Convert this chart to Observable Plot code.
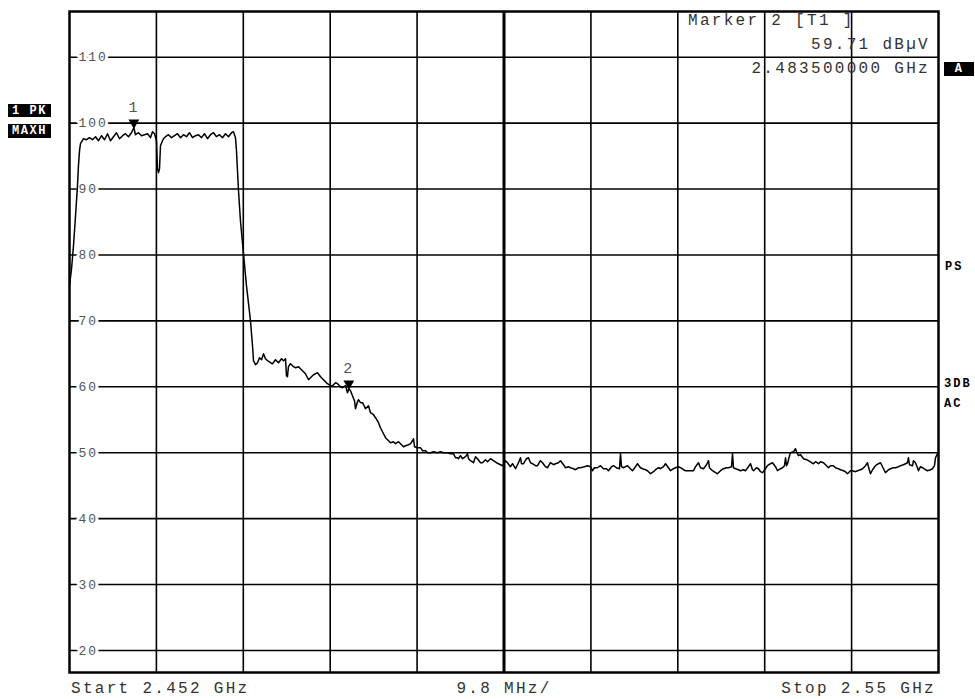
<!DOCTYPE html>
<html>
<head>
<meta charset="utf-8">
<script src="https://cdn.jsdelivr.net/npm/d3@7"></script>
<script src="https://cdn.jsdelivr.net/npm/@observablehq/plot@0.6"></script>
<style>
  html, body { margin: 0; padding: 0; background: #fff; }
  #chart svg { display: block; }
  #chart g[aria-label="text"] text { letter-spacing: 2px; }
  .readout { font-family: "Liberation Mono", "DejaVu Sans Mono", monospace; font-size: 16px; letter-spacing: 2.3px; fill: #333; }
  .side { font-family: "Liberation Mono", "DejaVu Sans Mono", monospace; font-size: 12px; font-weight: bold; letter-spacing: 2px; fill: #000; }
  .boxlab { font-family: "Liberation Mono", "DejaVu Sans Mono", monospace; font-size: 12px; font-weight: bold; letter-spacing: 1.5px; fill: #fff; }
</style>
</head>
<body>
<div id="chart"></div>
<script>
// Sweep settings (MHz)
const startMHz = 2452;
const stopMHz = 2550;
const divisions = 10;

// Level axis (dBµV)
const levelMin = 16.66;
const levelMax = 116.93;
const levelTicks = [20, 30, 40, 50, 60, 70, 80, 90, 100, 110];

// Trace 1, max hold: frequency (MHz)
const freqMHz = [
  2452.00, 2452.23, 2452.45, 2452.68, 2452.90, 2453.01, 2453.13, 2453.24,
  2453.58, 2453.92, 2454.26, 2454.59, 2454.93, 2455.27, 2455.61, 2455.95,
  2456.29, 2456.62, 2456.96, 2457.30, 2457.64, 2457.98, 2458.32, 2458.65,
  2458.99, 2459.26, 2459.44, 2459.78, 2460.12, 2460.46, 2460.80, 2461.13,
  2461.36, 2461.59, 2461.81, 2461.92, 2462.04, 2462.15, 2462.26, 2462.49,
  2462.60, 2462.83, 2463.16, 2463.50, 2463.84, 2464.18, 2464.52, 2464.86,
  2465.19, 2465.53, 2465.87, 2466.21, 2466.55, 2466.89, 2467.22, 2467.56,
  2467.90, 2468.24, 2468.58, 2468.92, 2469.25, 2469.59, 2469.93, 2470.27,
  2470.49, 2470.72, 2470.83, 2471.06, 2471.28, 2471.62, 2471.96, 2472.41,
  2472.64, 2472.75, 2472.98, 2473.20, 2473.43, 2473.66, 2473.88, 2474.10,
  2474.33, 2474.67, 2474.89, 2475.23, 2475.57, 2475.91, 2476.13, 2476.36,
  2476.47, 2476.58, 2476.69, 2476.92, 2477.26, 2477.49, 2477.83, 2478.05,
  2478.39, 2478.61, 2478.95, 2479.29, 2479.52, 2479.97, 2480.31, 2480.53,
  2480.87, 2481.09, 2481.43, 2481.66, 2482.00, 2482.22, 2482.56, 2482.79,
  2483.13, 2483.35, 2483.50, 2483.69, 2483.91, 2484.14, 2484.25, 2484.48,
  2484.59, 2484.82, 2485.04, 2485.27, 2485.38, 2485.72, 2485.94, 2486.28,
  2486.51, 2486.85, 2487.07, 2487.41, 2487.64, 2487.98, 2488.20, 2488.54,
  2488.76, 2489.10, 2489.33, 2489.66, 2489.89, 2490.23, 2490.46, 2490.68,
  2490.79, 2490.91, 2491.24, 2491.58, 2491.81, 2492.15, 2492.37, 2492.71,
  2493.05, 2493.50, 2493.84, 2494.18, 2494.63, 2494.97, 2495.30, 2495.53,
  2495.76, 2495.87, 2496.09, 2496.32, 2496.66, 2496.88, 2497.00, 2497.22,
  2497.56, 2497.79, 2498.01, 2498.35, 2498.57, 2498.91, 2499.14, 2499.48,
  2499.81, 2500.15, 2500.38, 2500.83, 2501.17, 2501.39, 2501.73, 2501.96,
  2502.30, 2502.63, 2502.86, 2502.97, 2503.20, 2503.54, 2503.76, 2503.99,
  2504.21, 2504.55, 2504.78, 2505.11, 2505.34, 2505.68, 2505.90, 2506.24,
  2506.58, 2506.81, 2507.14, 2507.37, 2507.71, 2507.93, 2508.27, 2508.50,
  2508.83, 2509.06, 2509.40, 2509.63, 2510.07, 2510.41, 2510.75, 2510.98,
  2511.20, 2511.54, 2511.88, 2512.22, 2512.56, 2512.78, 2513.12, 2513.35,
  2513.68, 2514.02, 2514.14, 2514.25, 2514.47, 2514.70, 2514.93, 2515.26,
  2515.49, 2515.83, 2516.05, 2516.39, 2516.62, 2516.96, 2517.18, 2517.52,
  2517.86, 2518.09, 2518.43, 2518.65, 2518.99, 2519.21, 2519.55, 2519.78,
  2520.11, 2520.34, 2520.68, 2520.91, 2521.25, 2521.47, 2521.69, 2522.03,
  2522.37, 2522.60, 2522.93, 2523.16, 2523.50, 2523.84, 2524.06, 2524.17,
  2524.51, 2524.85, 2525.07, 2525.41, 2525.75, 2526.09, 2526.32, 2526.66,
  2526.77, 2526.88, 2527.11, 2527.44, 2527.67, 2528.01, 2528.23, 2528.57,
  2528.80, 2529.02, 2529.14, 2529.47, 2529.70, 2529.93, 2530.15, 2530.49,
  2530.71, 2531.05, 2531.28, 2531.62, 2531.84, 2532.18, 2532.41, 2532.63,
  2532.75, 2532.86, 2532.97, 2533.20, 2533.31, 2533.65, 2533.87, 2533.99,
  2534.21, 2534.44, 2534.78, 2535.12, 2535.34, 2535.68, 2535.90, 2536.13,
  2536.47, 2536.69, 2537.03, 2537.26, 2537.59, 2537.82, 2538.16, 2538.38,
  2538.72, 2538.95, 2539.28, 2539.51, 2539.74, 2540.07, 2540.30, 2540.64,
  2540.86, 2541.20, 2541.43, 2541.77, 2541.99, 2542.10, 2542.33, 2542.56,
  2542.89, 2543.23, 2543.46, 2543.80, 2544.02, 2544.36, 2544.59, 2544.92,
  2545.15, 2545.49, 2545.71, 2546.05, 2546.28, 2546.50, 2546.61, 2546.73,
  2547.07, 2547.18, 2547.40, 2547.63, 2547.74, 2547.97, 2548.19, 2548.53,
  2548.76, 2549.10, 2549.32, 2549.55, 2549.66, 2549.89, 2550.00
];

// Trace 1, max hold: level (dBµV)
const levelDbuv = [
  75.33, 77.91, 81.40, 85.95, 90.50, 93.54, 95.81, 96.88,
  97.63, 97.48, 97.79, 97.48, 97.94, 97.33, 98.09, 97.48,
  98.39, 97.33, 97.94, 98.54, 97.63, 98.09, 98.39, 97.94,
  98.54, 99.30, 98.24, 98.54, 98.09, 98.24, 98.39, 97.79,
  98.70, 98.39, 97.33, 93.08, 92.48, 93.08, 96.57, 97.33,
  97.63, 97.94, 98.24, 97.79, 98.09, 98.39, 97.79, 98.24,
  97.94, 98.54, 97.79, 98.09, 98.24, 97.79, 98.39, 97.63,
  98.24, 98.54, 97.94, 98.24, 97.79, 98.39, 97.94, 98.54,
  98.70, 97.79, 95.81, 89.75, 85.19, 80.19, 75.33, 70.02,
  66.23, 63.96, 63.35, 63.65, 64.41, 64.11, 65.02, 64.26,
  63.96, 63.65, 63.50, 64.11, 63.65, 64.26, 63.96, 64.26,
  61.68, 61.53, 63.05, 63.50, 63.05, 62.89, 63.05, 62.74,
  62.29, 61.98, 61.07, 61.53, 61.83, 62.14, 61.53, 61.23,
  60.77, 60.47, 60.16, 60.16, 60.62, 60.47, 60.01, 59.86,
  60.16, 59.10, 59.71, 59.41, 58.65, 57.89, 56.68, 57.74,
  58.04, 57.59, 57.59, 56.98, 56.68, 57.13, 56.07, 55.76,
  55.31, 54.55, 53.79, 52.88, 52.28, 51.82, 51.52, 51.67,
  51.37, 51.67, 51.37, 50.91, 51.06, 51.21, 51.37, 51.82,
  52.12, 50.91, 50.76, 50.76, 50.30, 50.30, 50.00, 50.00,
  50.15, 50.00, 50.15, 50.00, 50.00, 49.85, 49.85, 49.24,
  49.24, 49.09, 49.55, 49.09, 49.39, 49.85, 49.09, 48.79,
  48.48, 49.39, 49.09, 48.48, 48.48, 48.94, 48.63, 49.09,
  48.79, 48.48, 48.33, 48.03, 48.79, 48.48, 47.88, 48.33,
  47.57, 48.48, 49.24, 48.33, 48.33, 49.09, 49.24, 48.48,
  48.33, 48.03, 48.03, 48.79, 48.48, 47.88, 47.72, 48.48,
  48.18, 48.33, 48.48, 48.79, 48.18, 47.72, 47.88, 47.72,
  47.57, 47.42, 47.72, 47.72, 47.88, 48.03, 47.88, 47.27,
  47.72, 47.72, 48.03, 47.57, 47.57, 47.27, 47.88, 48.03,
  47.72, 47.57, 49.85, 47.88, 47.72, 47.88, 48.03, 47.57,
  47.27, 47.88, 48.33, 47.72, 47.57, 47.42, 47.27, 46.81,
  47.12, 47.42, 47.72, 47.57, 47.88, 48.33, 47.72, 47.27,
  47.57, 47.72, 47.88, 47.72, 47.42, 47.27, 47.27, 47.27,
  47.27, 47.88, 48.48, 47.72, 47.57, 48.18, 48.79, 47.72,
  47.27, 46.97, 46.81, 47.27, 47.57, 47.72, 47.72, 47.88,
  49.85, 47.72, 47.57, 47.42, 47.27, 47.42, 47.27, 47.88,
  48.33, 47.42, 47.27, 47.72, 47.57, 47.12, 46.97, 47.57,
  48.03, 48.33, 48.48, 47.88, 47.27, 47.57, 47.72, 48.03,
  49.24, 48.03, 48.33, 49.55, 50.00, 50.15, 50.61, 50.15,
  49.55, 49.70, 49.09, 48.94, 48.79, 48.48, 48.33, 48.63,
  48.33, 48.63, 48.48, 48.18, 47.72, 48.03, 48.03, 47.72,
  47.57, 47.42, 47.27, 47.12, 46.81, 47.27, 47.27, 47.12,
  47.27, 47.42, 47.57, 48.03, 48.48, 47.88, 46.81, 47.42,
  48.03, 48.33, 48.48, 47.57, 46.97, 47.42, 47.57, 47.72,
  47.72, 47.88, 48.03, 48.18, 48.33, 48.48, 49.24, 48.18,
  48.03, 48.79, 48.48, 47.72, 47.27, 47.88, 47.72, 47.42,
  47.27, 47.42, 47.57, 48.03, 49.24, 49.85, 50.00
];

// Markers
const markerName = ["1", "2"];
const markerFreqMHz = [2459.26, 2483.5];
const markerLevel = [99.30, 59.71];

const trace = freqMHz.map((f, i) => ({f, v: levelDbuv[i]}));
const markers = markerName.map((n, i) => ({n, f: markerFreqMHz[i], v: markerLevel[i]}));
const spanPerDiv = (stopMHz - startMHz) / divisions;
const divLines = d3.range(1, divisions).map(i => startMHz + i * spanPerDiv);
const centerMHz = startMHz + divisions / 2 * spanPerDiv;

const W = 975, H = 699;
const mL = 69, mR = 37, mT = 11, mB = 27;

const chart = Plot.plot({
  width: W,
  height: H,
  marginLeft: mL,
  marginRight: mR,
  marginTop: mT,
  marginBottom: mB,
  style: {fontFamily: "Liberation Mono, DejaVu Sans Mono, monospace", background: "#fff"},
  x: {domain: [startMHz, stopMHz], axis: null},
  y: {domain: [levelMin, levelMax], axis: null},
  marks: [
    Plot.ruleY(levelTicks, {stroke: "#000", strokeWidth: 1.6}),
    Plot.ruleX(divLines.filter(d => Math.abs(d - centerMHz) > 1e-6), {stroke: "#000", strokeWidth: 1.6}),
    Plot.ruleX([centerMHz], {stroke: "#000", strokeWidth: 3}),
    Plot.text(levelTicks, {
      x: startMHz, y: d => d, text: d => String(d),
      textAnchor: "start", dx: 9, fontSize: 13, fill: "#555",
      stroke: "#fff", strokeWidth: 6
    }),
    Plot.line(trace, {x: "f", y: "v", stroke: "#000", strokeWidth: 1.5, clip: true}),
    Plot.dot(markers, {x: "f", y: "v", symbol: "triangle", r: 4, fill: "#000", stroke: null, rotate: 180, dy: -5}),
    Plot.text(markers, {x: "f", y: "v", text: "n", dy: -21, fontSize: 15, fill: "#555"}),
    Plot.frame({stroke: "#000", strokeWidth: 2.5})
  ]
});

document.getElementById("chart").appendChild(chart);

const svg = d3.select(chart);
const fmt = (v, d) => v.toFixed(d);

function label(cls, x, y, anchor, str) {
  return svg.append("text").attr("class", cls).attr("x", x).attr("y", y)
    .attr("text-anchor", anchor).text(str);
}

// Marker readout
const m2 = markers[1];
label("readout", 688, 25, "start", `Marker ${m2.n} [T1 ]`);
label("readout", 930, 49, "end", `${fmt(m2.v, 2)} dBµV`);
label("readout", 930, 73, "end", `${fmt(m2.f / 1000, 9)} GHz`);

// Sweep annotation under the frame
label("readout", 71, 693, "start", `Start ${startMHz / 1000} GHz`);
label("readout", 504, 693, "middle", `${spanPerDiv.toFixed(1)} MHz/`);
label("readout", 936, 693, "end", `Stop ${stopMHz / 1000} GHz`);

// Trace status boxes
function box(x, y, w, h, str) {
  svg.append("rect").attr("x", x).attr("y", y).attr("width", w).attr("height", h).attr("fill", "#000");
  svg.append("text").attr("class", "boxlab").attr("x", x + w / 2).attr("y", y + h / 2)
    .attr("text-anchor", "middle").attr("dominant-baseline", "central").text(str);
}
box(8, 104, 43, 13, "1 PK");
box(8, 124, 43, 14, "MAXH");
box(944, 62, 30, 14, "A");

// Enhancement labels on the right
label("side", 945, 270, "start", "PS");
label("side", 944, 387, "start", "3DB");
label("side", 944, 407, "start", "AC");
</script>
</body>
</html>
